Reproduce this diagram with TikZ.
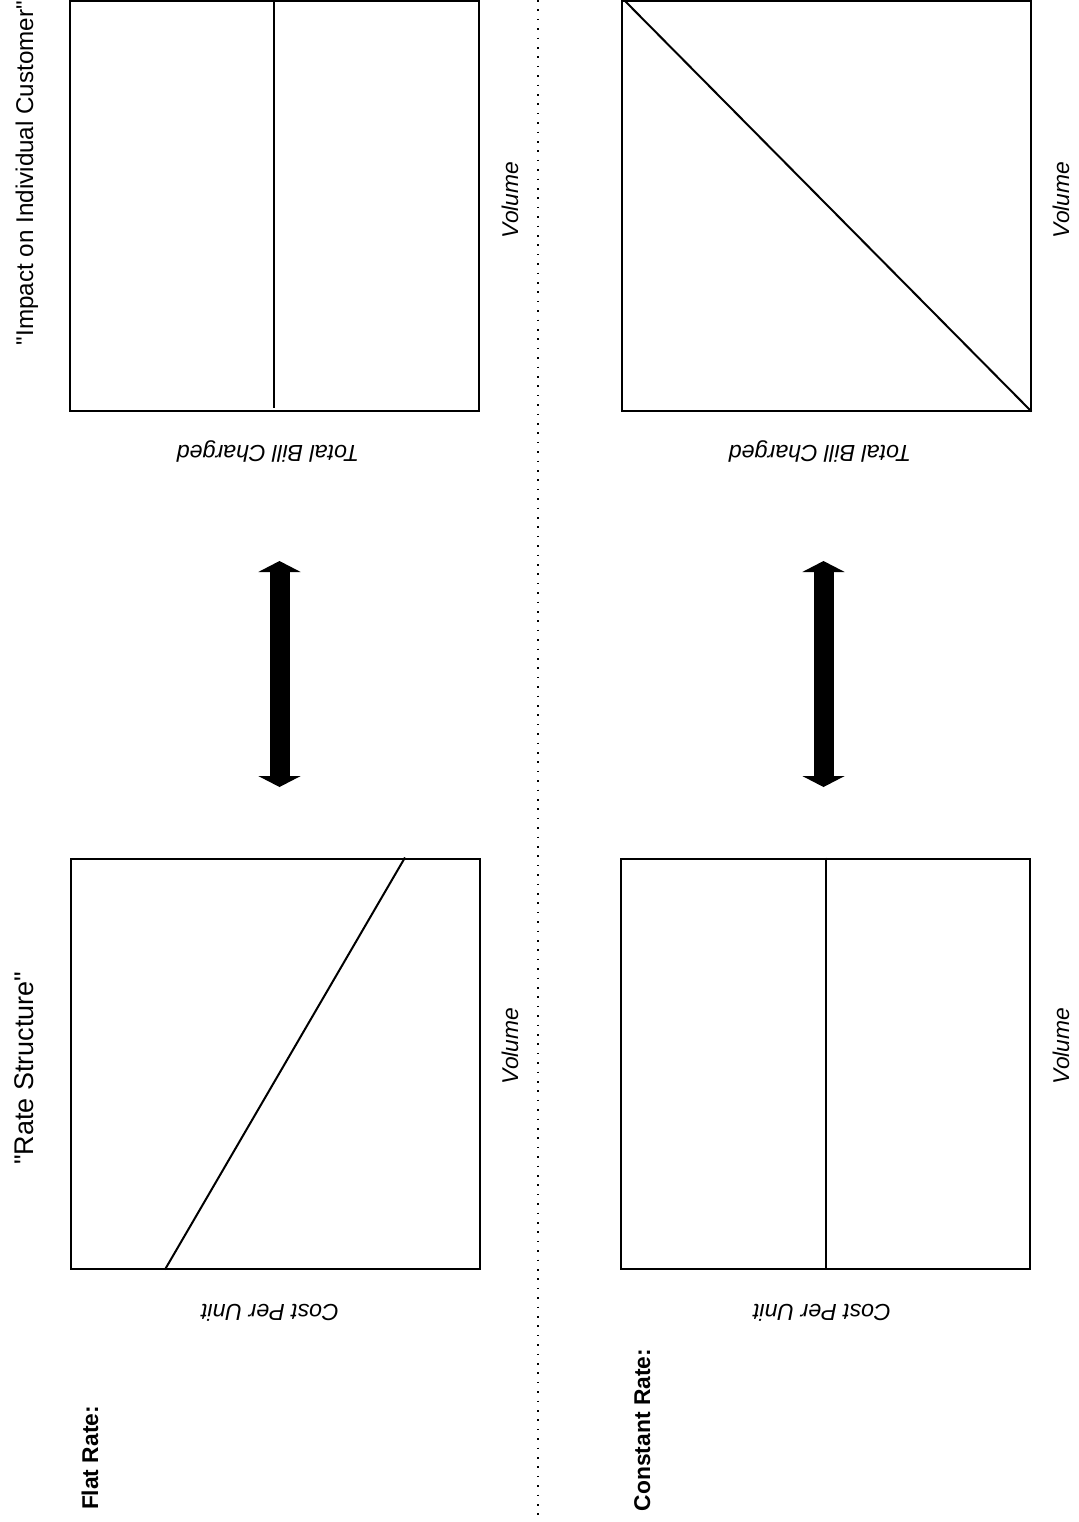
\documentclass[tikz,border=0pt]{standalone}
\usepackage{fontspec}
\setmainfont{Liberation Sans}[Ligatures=TeXOff]
\usepackage{tikz}
\usetikzlibrary{arrows.meta, positioning}
\tikzset{
  % Box styles
  chartbox/.style={rectangle, draw=black, line width=1pt, inner sep=0pt, minimum width=204.5pt, minimum height=205pt},
  % Text styles
  titlelabel/.style={font=\fontsize{12.1}{14}\selectfont, rotate=90, anchor=base, inner sep=0pt},
  ratelabel/.style={font=\fontsize{11.4}{13}\selectfont\bfseries, rotate=90, anchor=base, inner sep=0pt},
  axislabel/.style={font=\fontsize{11.6}{13}\selectfont\itshape, rotate=180, anchor=base, inner sep=0pt},
  volumelabel/.style={font=\fontsize{11.4}{13}\selectfont\itshape, rotate=90, anchor=base, inner sep=0pt},
  % Line styles
  chartline/.style={line width=1pt},
  dualarrow/.style={{Triangle[length=5.5pt, width=21pt]}-{Triangle[length=5.5pt, width=21pt]}, line width=10pt},
  divider/.style={line width=0.6pt, dash pattern=on 0.8pt off 3.9pt}
}

\begin{document}
\begin{tikzpicture}[x=0.5pt, y=-0.5pt]
  \useasboundingbox (0,0) rectangle (1078,1522);

  % Column titles
  \node[titlelabel, font=\fontsize{13.5}{16}\selectfont] (ratetitle) at (33,1068) {"Rate Structure"};
  \node[titlelabel] (impacttitle) at (33,173) {"Impact on Individual Customer"};

  % Flat rate row
  \node[ratelabel] (flatname) at (98,1458) {Flat Rate:};
  \node[chartbox] (flatcost) at (275.5,1063.5) {};
  \node[chartbox] (flatbill) at (274,205.5) {};
  \draw[chartline] ([xshift=47.5pt]flatcost.south west) -- ([xshift=-38pt]flatcost.north east);
  \draw[chartline] (flatbill.north) -- ([yshift=2pt]flatbill.south);
  \node[axislabel] (flatcostlbl) at (270,1304) {Cost Per Unit};
  \node[axislabel] (flatbilllbl) at (268,445) {Total Bill Charged};
  \node[volumelabel] (flatcostvol) at (518,1046) {Volume};
  \node[volumelabel] (flatbillvol) at (518,200) {Volume};
  \coordinate (flattop) at (279.5,561);
  \coordinate (flatbot) at (279.5,787);
  \draw[dualarrow] (flattop) -- (flatbot);

  % Divider
  \coordinate (divtop) at (538,0);
  \coordinate (divbot) at (538,1522);
  \draw[divider] (divtop) -- (divbot);

  % Constant rate row
  \node[ratelabel] (constname) at (650,1430) {Constant Rate:};
  \node[chartbox] (constcost) at (825.5,1063.5) {};
  \node[chartbox] (constbill) at (826,205.5) {};
  \draw[chartline] (constcost.north) -- (constcost.south);
  \draw[chartline] ([xshift=1.5pt]constbill.north west) -- (constbill.south east);
  \node[axislabel] (constcostlbl) at (822,1304) {Cost Per Unit};
  \node[axislabel] (constbilllbl) at (820,445) {Total Bill Charged};
  \node[volumelabel] (constcostvol) at (1069,1046) {Volume};
  \node[volumelabel] (constbillvol) at (1069,200) {Volume};
  \coordinate (consttop) at (823.5,561);
  \coordinate (constbot) at (823.5,787);
  \draw[dualarrow] (consttop) -- (constbot);
\end{tikzpicture}
\end{document}
